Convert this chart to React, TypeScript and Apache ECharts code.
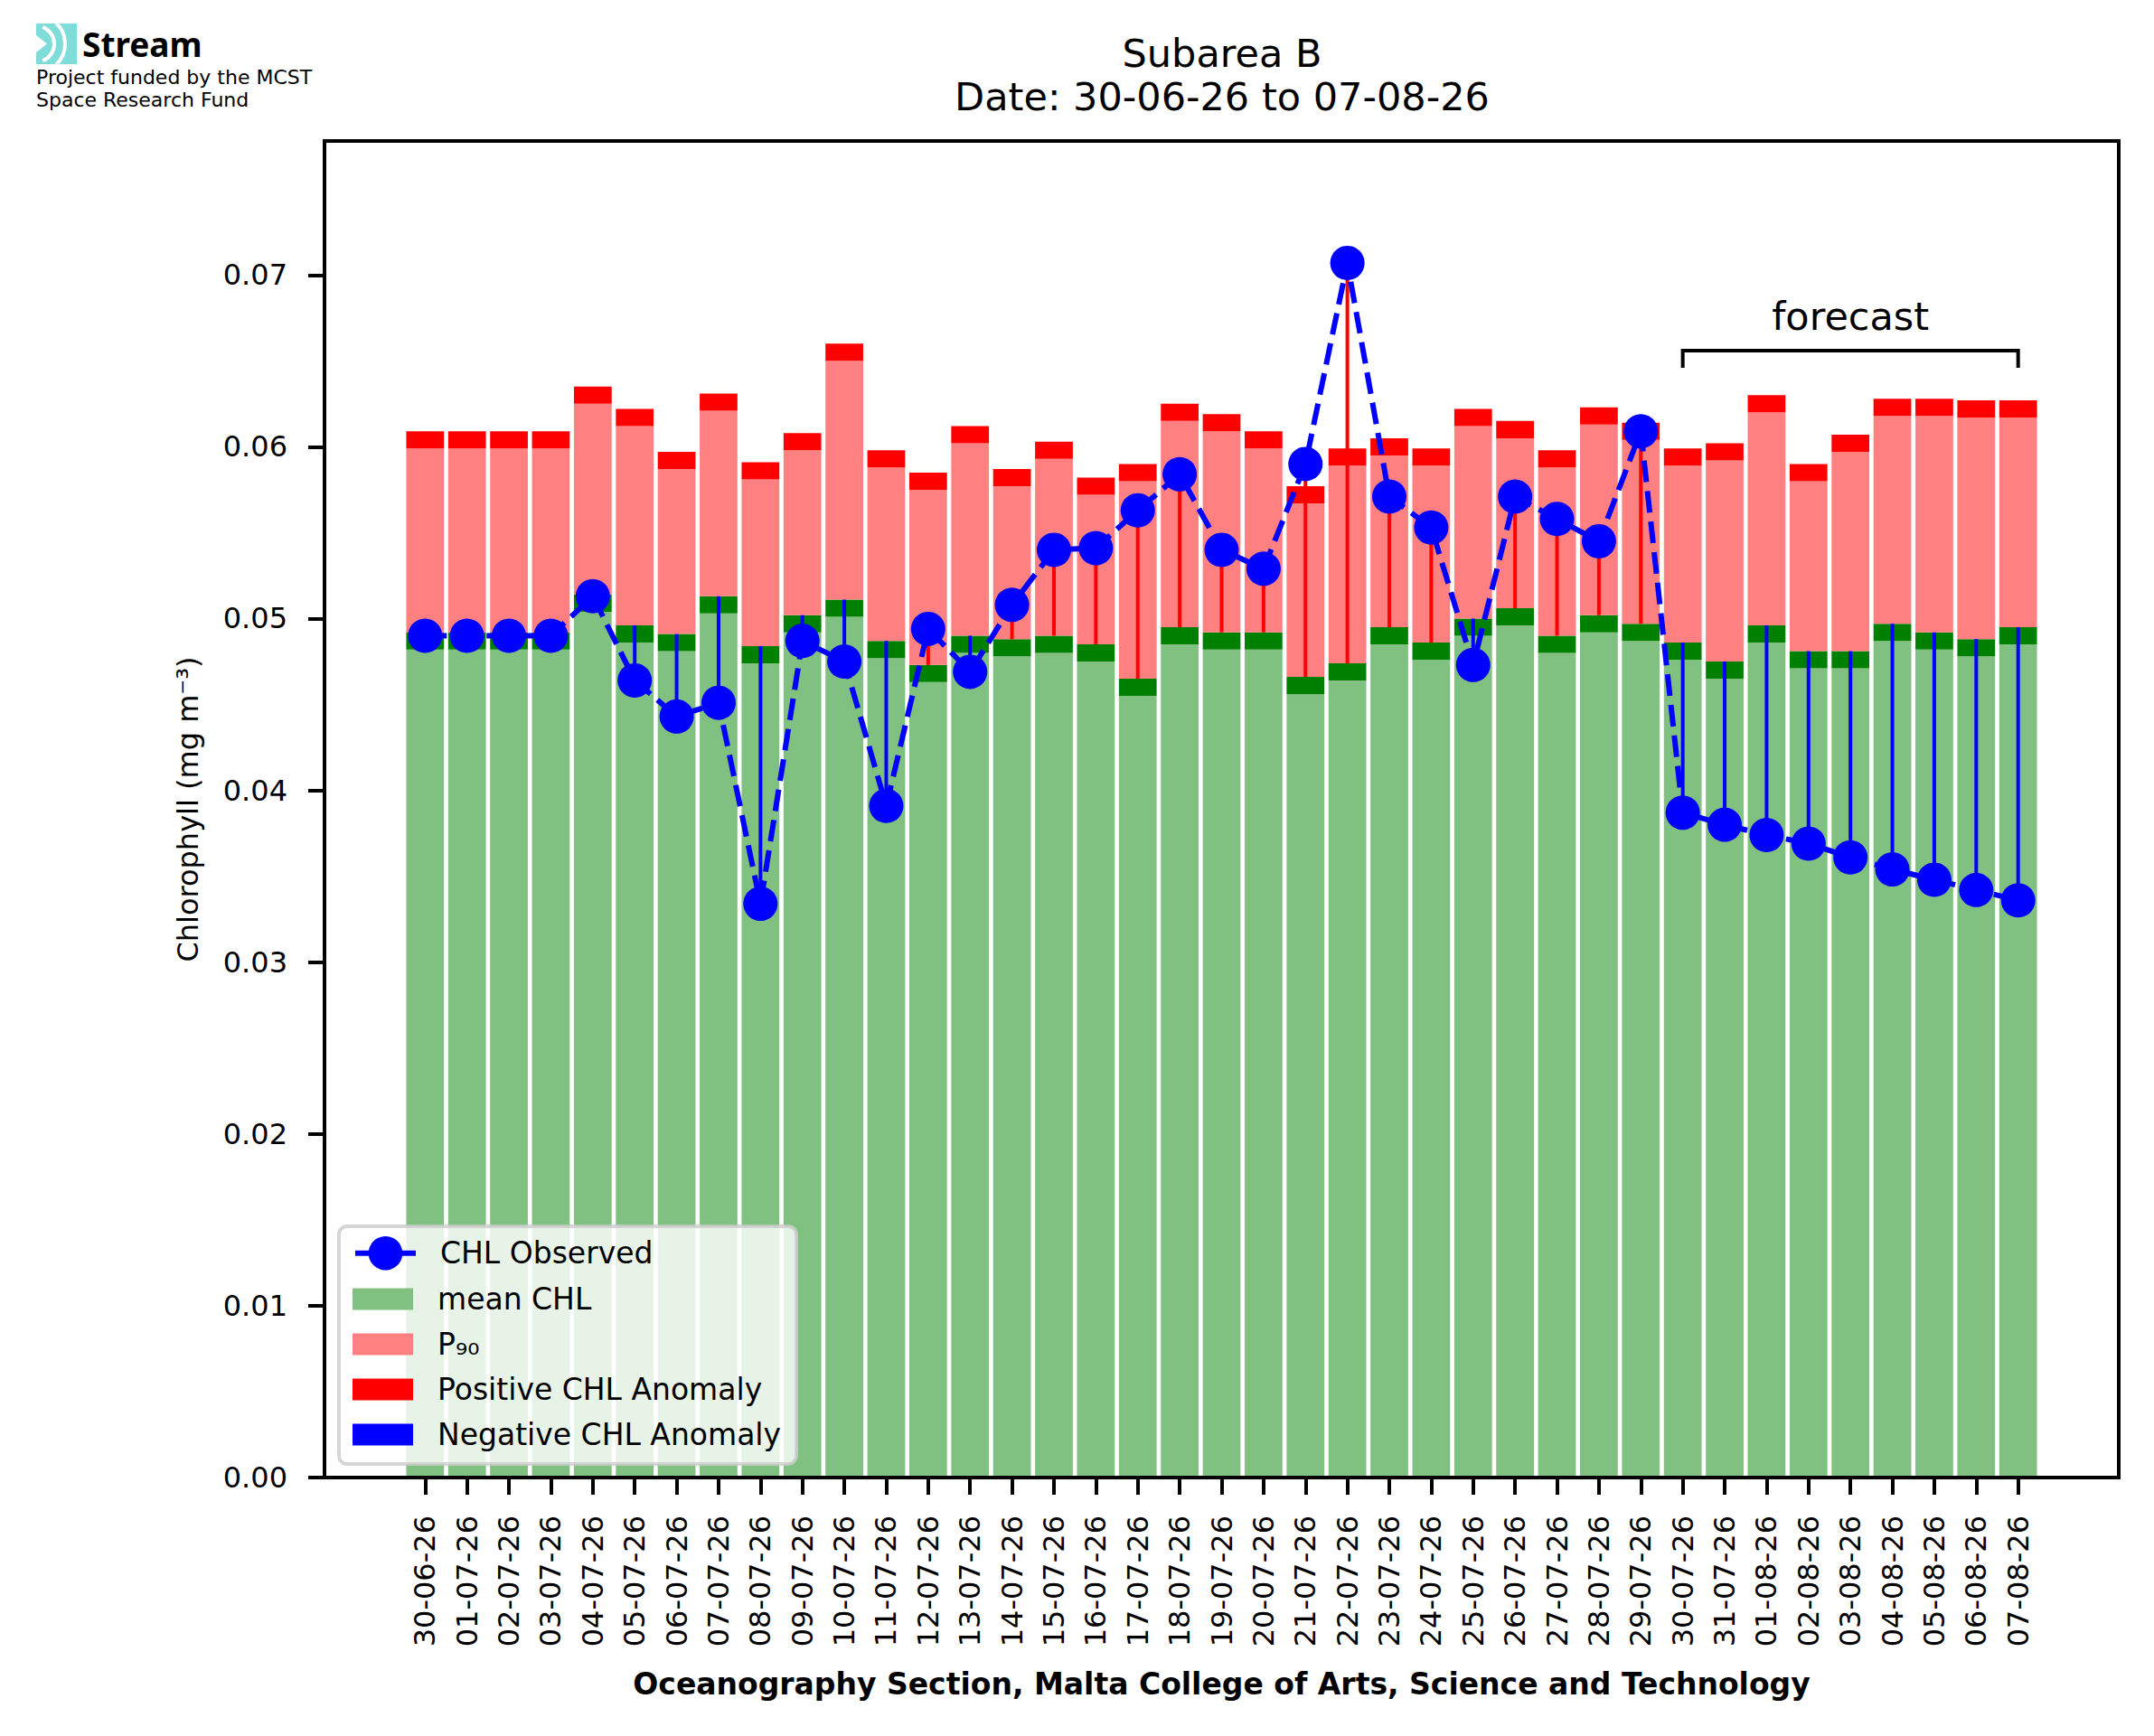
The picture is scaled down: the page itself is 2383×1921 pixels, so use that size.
import React, { useEffect, useRef } from 'react';
import * as echarts from 'echarts';

// dates on the x axis (dd-mm-yy)
const dates = [
  '30-06-26', '01-07-26', '02-07-26', '03-07-26', '04-07-26', '05-07-26', '06-07-26', '07-07-26',
  '08-07-26', '09-07-26', '10-07-26', '11-07-26', '12-07-26', '13-07-26', '14-07-26', '15-07-26',
  '16-07-26', '17-07-26', '18-07-26', '19-07-26', '20-07-26', '21-07-26', '22-07-26', '23-07-26',
  '24-07-26', '25-07-26', '26-07-26', '27-07-26', '28-07-26', '29-07-26', '30-07-26', '31-07-26',
  '01-08-26', '02-08-26', '03-08-26', '04-08-26', '05-08-26', '06-08-26', '07-08-26',
];

// climatological mean CHL (mg m-3)
const meanChl = [
  0.0492, 0.0492, 0.0492, 0.0492, 0.0514, 0.0496, 0.0491, 0.0513, 0.0484, 0.0502,
  0.0511, 0.0487, 0.0473, 0.0490, 0.0488, 0.0490, 0.0485, 0.0465, 0.0495, 0.0492,
  0.0492, 0.0466, 0.0474, 0.0495, 0.0486, 0.0500, 0.0506, 0.0490, 0.0502, 0.0497,
  0.0486, 0.0475, 0.0496, 0.0481, 0.0481, 0.0497, 0.0492, 0.0488, 0.0495,
];

// 90th percentile CHL
const p90Chl = [
  0.0609, 0.0609, 0.0609, 0.0609, 0.0635, 0.0622, 0.0597, 0.0631, 0.0591, 0.0608,
  0.0660, 0.0598, 0.0585, 0.0612, 0.0587, 0.0603, 0.0582, 0.0590, 0.0625, 0.0619,
  0.0609, 0.0577, 0.0599, 0.0605, 0.0599, 0.0622, 0.0615, 0.0598, 0.0623, 0.0614,
  0.0599, 0.0602, 0.0630, 0.0590, 0.0607, 0.0628, 0.0628, 0.0627, 0.0627,
];

// observed / forecast CHL
const obsChl = [
  0.0490, 0.0490, 0.0490, 0.0490, 0.0513, 0.0464, 0.0443, 0.0451, 0.0334, 0.0487,
  0.0475, 0.0391, 0.0494, 0.0469, 0.0508, 0.0540, 0.0541, 0.0563, 0.0584, 0.0540,
  0.0529, 0.0590, 0.0707, 0.0571, 0.0553, 0.0473, 0.0571, 0.0558, 0.0545, 0.0609,
  0.0387, 0.0380, 0.0374, 0.0369, 0.0361, 0.0354, 0.0348, 0.0342, 0.0336,
];

const yTicks = [0, 0.01, 0.02, 0.03, 0.04, 0.05, 0.06, 0.07];
const forecastSpan = [30, 38];

const FONT = "'DejaVu Sans'";
const CAP = 0.001; // thickness of the dark caps on top of the bars

const App: React.FC = () => {
  const chartRef = useRef<HTMLDivElement>(null);

  useEffect(() => {
    if (!chartRef.current) return;
    document.body.style.margin = '0';

    const chart = echarts.init(chartRef.current, null, { renderer: 'svg' });

    const idx = dates.map((_, i) => i);
    // [x, from, to] for each bar segment
    const meanBody = idx.map((i) => [i, 0, meanChl[i] - CAP]);
    const meanCap = idx.map((i) => [i, meanChl[i] - CAP, meanChl[i]]);
    const p90Body = idx.map((i) => [i, meanChl[i], p90Chl[i] - CAP]);
    const p90Cap = idx.map((i) => [i, p90Chl[i] - CAP, p90Chl[i]]);
    const posAnom = idx.filter((i) => obsChl[i] > meanChl[i]).map((i) => [i, meanChl[i], obsChl[i]]);
    const negAnom = idx.filter((i) => obsChl[i] < meanChl[i]).map((i) => [i, meanChl[i], obsChl[i]]);

    const renderBar = (_params: any, api: any) => {
      const lo = api.coord([api.value(0), api.value(1)]);
      const hi = api.coord([api.value(0), api.value(2)]);
      const w = api.size([0.9, 0])[0];
      return {
        type: 'rect',
        shape: { x: lo[0] - w / 2, y: hi[1], width: w, height: lo[1] - hi[1] },
        style: { fill: api.visual('color') },
      };
    };

    const renderStem = (_params: any, api: any) => {
      const a = api.coord([api.value(0), api.value(1)]);
      const b = api.coord([api.value(0), api.value(2)]);
      return {
        type: 'line',
        shape: { x1: a[0], y1: a[1], x2: b[0], y2: b[1] },
        style: { stroke: api.visual('color'), lineWidth: 4 },
      };
    };

    const renderBracket = (_params: any, api: any) => {
      const l = api.coord([api.value(0), api.value(2)]);
      const r = api.coord([api.value(1), api.value(2)]);
      const drop = api.size([0, 0.001])[1];
      return {
        type: 'group',
        children: [
          {
            type: 'polyline',
            shape: { points: [[l[0], l[1] + drop], l, r, [r[0], r[1] + drop]] },
            style: { stroke: '#000', lineWidth: 4, fill: null },
          },
          {
            type: 'text',
            style: {
              text: 'forecast',
              x: (l[0] + r[0]) / 2,
              y: l[1] - 38,
              align: 'center',
              verticalAlign: 'middle',
              font: `43px ${FONT}`,
              fill: '#000',
            },
          },
        ],
      };
    };

    const barSeries = (name: string, color: string, data: number[][]) => ({
      name,
      type: 'custom',
      z: 2,
      itemStyle: { color },
      encode: { x: 0, y: [1, 2] },
      renderItem: renderBar,
      data,
    });

    const legendText = { fontFamily: FONT, fontSize: 33, color: '#000', padding: [0, 0, 0, 22] };

    const option: any = {
      animation: false,
      backgroundColor: '#fff',
      grid: {
        left: 359,
        top: 156,
        width: 1985,
        height: 1479,
        show: true,
        borderColor: '#000',
        borderWidth: 4,
        containLabel: false,
      },
      xAxis: {
        type: 'value',
        min: -2.4,
        max: 40.4,
        z: 10,
        name: 'Oceanography Section, Malta College of Arts, Science and Technology',
        nameLocation: 'middle',
        nameGap: 212,
        nameTextStyle: { fontFamily: FONT, fontSize: 33, fontWeight: 'bold', color: '#000' },
        axisLine: { show: true, onZero: false, lineStyle: { color: '#000', width: 4 } },
        axisTick: { show: true, length: 19, customValues: idx, lineStyle: { color: '#000', width: 4 } },
        axisLabel: {
          customValues: idx,
          rotate: 90,
          margin: 42,
          fontFamily: FONT,
          fontSize: 32,
          color: '#000',
          formatter: (v: number) => dates[Math.round(v)] ?? '',
        },
        splitLine: { show: false },
      },
      yAxis: {
        type: 'value',
        min: 0,
        max: 0.0778,
        z: 10,
        name: 'Chlorophyll (mg m⁻³)',
        nameLocation: 'middle',
        nameGap: 135,
        nameTextStyle: { fontFamily: FONT, fontSize: 32, color: '#000' },
        axisLine: { show: true, onZero: false, lineStyle: { color: '#000', width: 4 } },
        axisTick: { show: true, length: 18, customValues: yTicks, lineStyle: { color: '#000', width: 4 } },
        axisLabel: {
          customValues: yTicks,
          margin: 41,
          fontFamily: FONT,
          fontSize: 32,
          color: '#000',
          formatter: (v: number) => v.toFixed(2),
        },
        splitLine: { show: false },
      },
      legend: [
        {
          z: 20,
          selectedMode: false,
          left: 390,
          top: 1368,
          padding: 0,
          itemWidth: 67,
          itemHeight: 47,
          lineStyle: { type: 'solid', width: 6 },
          textStyle: legendText,
          data: ['CHL Observed'],
        },
        {
          z: 20,
          selectedMode: false,
          orient: 'vertical',
          left: 390,
          top: 1421,
          padding: 0,
          itemWidth: 67,
          itemHeight: 24,
          itemGap: 17,
          textStyle: legendText,
          data: [
            { name: 'mean CHL', icon: 'rect' },
            { name: 'P₉₀', icon: 'rect' },
            { name: 'Positive CHL Anomaly', icon: 'rect' },
            { name: 'Negative CHL Anomaly', icon: 'rect' },
          ],
        },
      ],
      graphic: [
        // title
        {
          type: 'text', x: 1352, y: 59, z: 20,
          style: { text: 'Subarea B', font: `43px ${FONT}`, fill: '#000', align: 'center', verticalAlign: 'middle' },
        },
        {
          type: 'text', x: 1352, y: 107, z: 20,
          style: { text: 'Date: 30-06-26 to 07-08-26', font: `43px ${FONT}`, fill: '#000', align: 'center', verticalAlign: 'middle' },
        },
        // logo
        { type: 'rect', shape: { x: 40, y: 26, width: 45, height: 45 }, style: { fill: '#80dcd8' }, z: 20 },
        { type: 'polygon', shape: { points: [[40, 39], [52, 48.5], [40, 58]] }, style: { fill: '#fff' }, z: 21 },
        { type: 'arc', shape: { cx: 40, cy: 48.5, r: 20, startAngle: -1.2, endAngle: 1.2 }, style: { stroke: '#fff', lineWidth: 4, fill: null }, z: 21 },
        { type: 'arc', shape: { cx: 40, cy: 48.5, r: 32, startAngle: -0.8, endAngle: 0.8 }, style: { stroke: '#fff', lineWidth: 4, fill: null }, z: 21 },
        {
          type: 'text', x: 91, y: 48, z: 20,
          style: { text: 'Stream', font: `bold 37px 'Noto Sans'`, fill: '#000', verticalAlign: 'middle' },
        },
        {
          type: 'text', x: 40, y: 85, z: 20,
          style: { text: 'Project funded by the MCST', font: `22px ${FONT}`, fill: '#000', verticalAlign: 'middle' },
        },
        {
          type: 'text', x: 40, y: 110, z: 20,
          style: { text: 'Space Research Fund', font: `22px ${FONT}`, fill: '#000', verticalAlign: 'middle' },
        },
        // legend frame
        {
          type: 'rect', z: 15,
          shape: { x: 375, y: 1357, width: 506, height: 263, r: 9 },
          style: { fill: 'rgba(255,255,255,0.8)', stroke: 'rgba(204,204,204,0.8)', lineWidth: 4 },
        },
      ],
      series: [
        barSeries('mean CHL', '#80c080', meanBody),
        barSeries('meanCap', '#008000', meanCap),
        barSeries('P₉₀', '#ff8080', p90Body),
        barSeries('p90Cap', '#ff0000', p90Cap),
        {
          name: 'Positive CHL Anomaly', type: 'custom', z: 3,
          itemStyle: { color: '#ff0000' },
          encode: { x: 0, y: [1, 2] },
          renderItem: renderStem, data: posAnom,
        },
        {
          name: 'Negative CHL Anomaly', type: 'custom', z: 3,
          itemStyle: { color: '#0000ff' },
          encode: { x: 0, y: [1, 2] },
          renderItem: renderStem, data: negAnom,
        },
        {
          name: 'CHL Observed', type: 'line', z: 4,
          data: idx.map((i) => [i, obsChl[i]]),
          symbol: 'circle', symbolSize: 38,
          itemStyle: { color: '#0000ff' },
          lineStyle: { color: '#0000ff', width: 6, type: [24, 10] },
        },
        {
          name: 'forecast', type: 'custom', z: 5,
          encode: { x: [0, 1], y: 2 },
          renderItem: renderBracket,
          data: [[forecastSpan[0], forecastSpan[1], 0.0656]],
        },
      ],
    };

    chart.setOption(option);

    return () => {
      chart.dispose();
    };
  }, []);

  return <div ref={chartRef} style={{ width: '2383px', height: '1921px' }} />;
};

export default App;
